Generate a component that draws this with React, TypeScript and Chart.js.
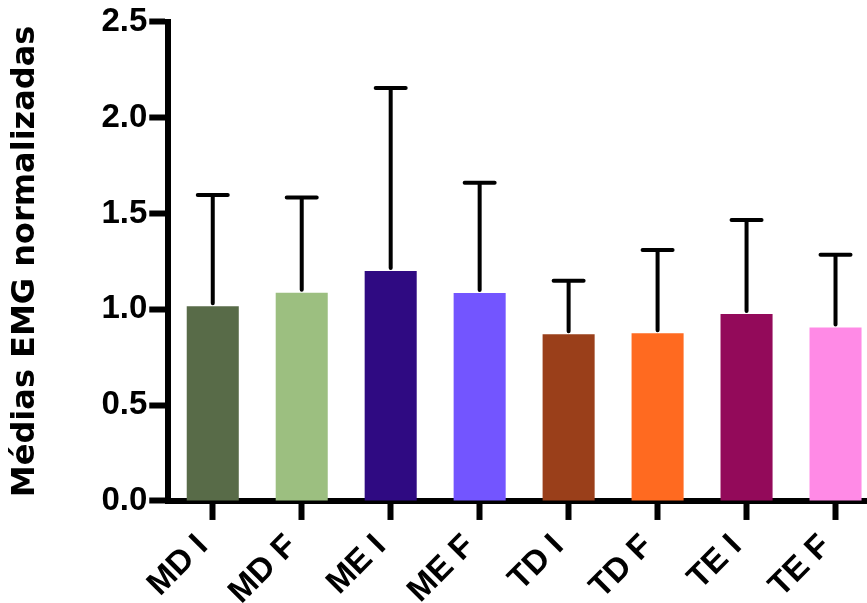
import React, { useEffect, useRef } from "react";
import { Chart, registerables } from "chart.js";

Chart.register(...registerables);

const categories = ["MD I", "MD F", "ME I", "ME F", "TD I", "TD F", "TE I", "TE F"];
const means = [1.016, 1.086, 1.2, 1.085, 0.87, 0.875, 0.975, 0.905];
const sds = [0.581, 0.497, 0.955, 0.575, 0.279, 0.435, 0.491, 0.379];
const barColors = ["#586B48", "#9CBF80", "#2F0A82", "#7355FF", "#9A3F1A", "#FF6A20", "#930A5A", "#FF8AE6"];
const yTicks = [0, 0.5, 1.0, 1.5, 2.0, 2.5];
const yTitle = "Médias EMG normalizadas";

const FONT = "'Liberation Sans', Arial, Helvetica, sans-serif";

const errorBarPlugin = {
  id: "errorBars",
  afterDatasetsDraw(chart: any) {
    const ctx = chart.ctx;
    const meta = chart.getDatasetMeta(0);
    const ys = chart.scales.y;
    ctx.save();
    ctx.strokeStyle = "#000";
    ctx.lineWidth = 4;
    ctx.lineCap = "round";
    meta.data.forEach((bar: any, i: number) => {
      const top = ys.getPixelForValue(means[i] + sds[i]);
      const x = bar.x;
      ctx.beginPath();
      ctx.moveTo(x, bar.y - 3);
      ctx.lineTo(x, top);
      ctx.moveTo(x - 15, top);
      ctx.lineTo(x + 15, top);
      ctx.stroke();
    });
    ctx.restore();
  },
};

export default function App() {
  const ref = useRef<HTMLCanvasElement>(null);
  useEffect(() => {
    const chart = new Chart(ref.current as HTMLCanvasElement, {
      type: "bar",
      data: {
        labels: categories,
        datasets: [
          {
            data: means,
            backgroundColor: barColors,
            borderWidth: 0,
            barPercentage: 0.585,
            categoryPercentage: 1,
          },
        ],
      },
      options: {
        responsive: false,
        animation: false,
        devicePixelRatio: 1,
        layout: { padding: { top: 2, left: 0, right: 0, bottom: 0 } },
        plugins: { legend: { display: false }, tooltip: { enabled: false } },
        scales: {
          x: {
            type: "category",
            offset: true,
            z: 1,
            grid: {
              display: true,
              drawOnChartArea: false,
              drawTicks: true,
              tickLength: 19,
              tickWidth: 6,
              tickColor: "#000",
              offset: false,
            },
            border: { display: true, width: 6, color: "#000" },
            ticks: {
              color: "#000",
              font: { family: FONT, size: 33, weight: "bold" },
              minRotation: 45,
              maxRotation: 45,
              padding: 7,
              labelOffset: -10,
              autoSkip: false,
            },
          },
          y: {
            min: 0,
            max: 2.5,
            z: 1,
            afterBuildTicks: (scale: any) => {
              scale.ticks = yTicks.map((v) => ({ value: v }));
            },
            grid: {
              display: true,
              drawOnChartArea: false,
              drawTicks: true,
              tickLength: 19,
              tickWidth: 6,
              tickColor: "#000",
            },
            border: { display: true, width: 6, color: "#000" },
            ticks: {
              color: "#000",
              font: { family: FONT, size: 33, weight: "bold" },
              padding: 2,
              callback: (v: any) => Number(v).toFixed(1),
            },
            title: {
              display: true,
              text: yTitle,
              color: "#000",
              font: { family: "'DejaVu Sans', sans-serif", size: 32, weight: "bold" },
              padding: { top: 6, bottom: 55 },
            },
          },
        },
      },
      plugins: [errorBarPlugin],
    } as any);
    return () => chart.destroy();
  }, []);
  return (
    <div
      style={{
        position: "fixed",
        left: 0,
        top: 0,
        width: 867,
        height: 603,
        overflow: "hidden",
        background: "#fff",
      }}
    >
      <canvas ref={ref} width={880} height={619} style={{ display: "block" }} />
    </div>
  );
}
